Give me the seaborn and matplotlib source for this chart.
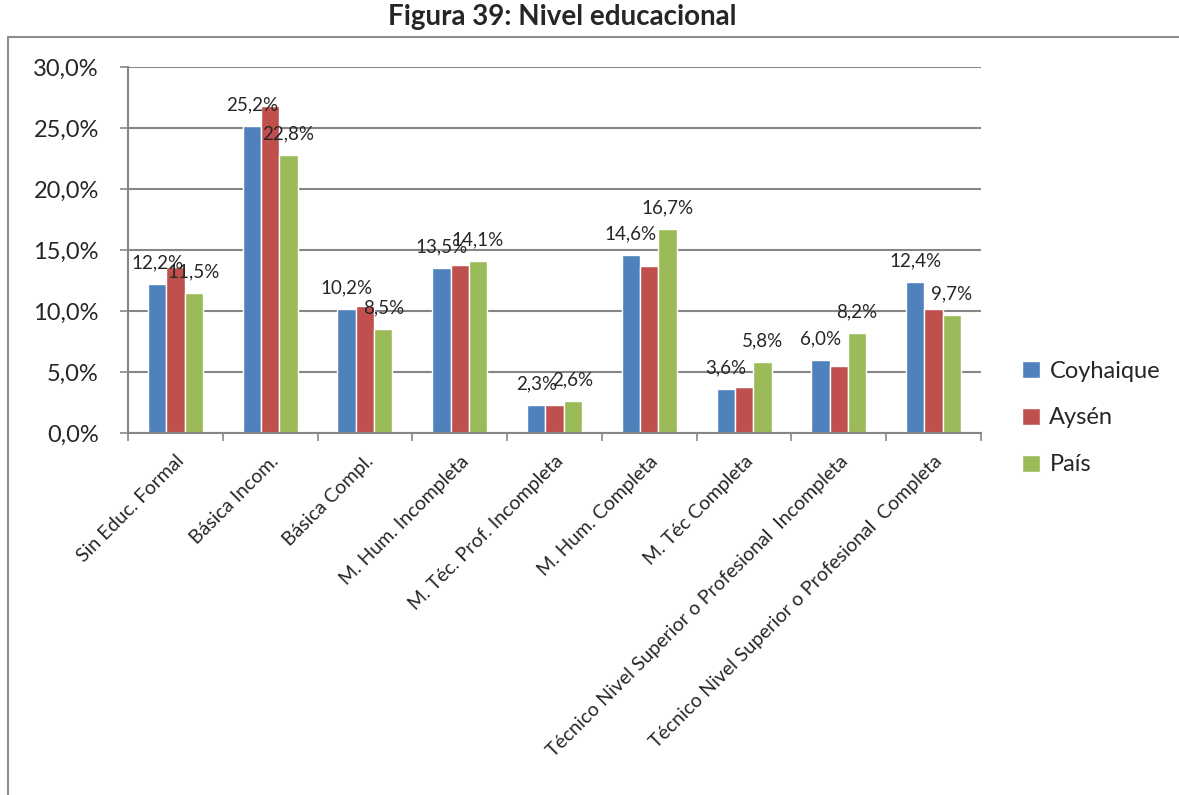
import numpy as np
import pandas as pd
import seaborn as sns
import matplotlib.pyplot as plt
from matplotlib.lines import Line2D
from matplotlib.ticker import FuncFormatter, FixedLocator

# data (percent)
categories = ['Sin Educ. Formal', 'Básica Incom.', 'Básica Compl.', 'M. Hum. Incompleta',
              'M. Téc. Prof. Incompleta', 'M. Hum. Completa', 'M. Téc Completa',
              'Técnico Nivel Superior o Profesional  Incompleta',
              'Técnico Nivel Superior o Profesional  Completa']
coyhaique = [12.2, 25.2, 10.2, 13.5, 2.3, 14.6, 3.6, 6.0, 12.4]
aysen = [13.6, 26.8, 10.4, 13.8, 2.3, 13.7, 3.8, 5.5, 10.2]
pais = [11.5, 22.8, 8.5, 14.1, 2.6, 16.7, 5.8, 8.2, 9.7]
series = ['Coyhaique', 'Aysén', 'País']
colors = ['#4F81BD', '#C0504D', '#9BBB59']

df = pd.DataFrame({
    'cat': categories * 3,
    'serie': np.repeat(series, len(categories)),
    'valor': coyhaique + aysen + pais,
})

sns.set_style('white')
plt.rcParams['font.family'] = ['Lato', 'DejaVu Sans']

fig = plt.figure(figsize=(11.79, 7.95), dpi=100)
ax = fig.add_axes([128/1179, 1 - 433/795, (981-128)/1179, (433-67)/795])

sns.barplot(data=df, x='cat', y='valor', hue='serie', palette=colors,
            width=0.58, ax=ax, saturation=1, legend=True)

ax.set_xlim(-0.5, len(categories) - 0.5)
ax.set_ylim(0, 30)
ax.set_yticks(np.arange(0, 31, 5))
ax.yaxis.set_major_formatter(FuncFormatter(lambda v, p: f'{v:.1f}%'.replace('.', ',')))
ax.tick_params(axis='y', labelsize=17, length=6, color='#868686', direction='out',
               left=True, width=1.2, pad=15)
ax.grid(axis='y', color='#868686', lw=1.5)
ax.set_axisbelow(True)

# category labels at centers, tick marks at boundaries
ax.set_xticks(range(len(categories)))
ax.set_xticklabels(categories, rotation=45, ha='right', rotation_mode='anchor', fontsize=14)
ax.tick_params(axis='x', which='major', length=0, pad=14)
ax.xaxis.set_minor_locator(FixedLocator(np.arange(-0.5, len(categories), 1)))
ax.tick_params(axis='x', which='minor', length=6, color='#868686', bottom=True, width=1.2)

ax.set_xlabel('')
ax.set_ylabel('')
for s in ['top', 'right']:
    ax.spines[s].set_visible(False)
for s in ['left', 'bottom']:
    ax.spines[s].set_color('#868686')
    ax.spines[s].set_linewidth(1.5)

# value labels only for Coyhaique and País
for i in [0, 2]:
    bars = ax.containers[i]
    ax.bar_label(bars, labels=[f'{b.get_height():.1f}%'.replace('.', ',') for b in bars],
                 padding=9, fontsize=13.5)

ax.legend(loc='center left', bbox_to_anchor=(1001/1179, 1 - 418/795),
          bbox_transform=fig.transFigure, frameon=False, fontsize=17,
          handlelength=0.75, handleheight=0.75, handletextpad=0.4, labelspacing=1.1)

fig.suptitle('Figura 39: Nivel educacional', x=562/1179, y=1 - 4/795, va='top',
             fontsize=20, fontweight='bold')

# outer chart frame
fig.add_artist(Line2D([8/1179, 1], [1 - 37/795, 1 - 37/795], color='#8c8c8c', lw=1.5))
fig.add_artist(Line2D([8/1179, 8/1179], [0, 1 - 37/795], color='#8c8c8c', lw=1.5))

fig.savefig('out.png', dpi=100)
